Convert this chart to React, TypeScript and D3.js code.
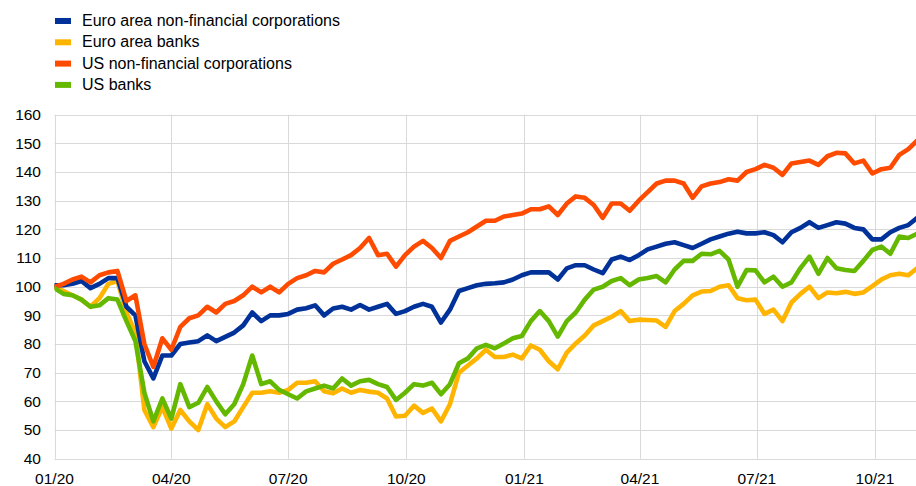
import React from 'react'
import * as d3 from 'd3'

// weekly observations, index 0 = 1 Jan 2020
const START = new Date(2020, 0, 1)
const END = new Date(2021, 10, 2)

const seriesNames = [
  'Euro area non-financial corporations',
  'Euro area banks',
  'US non-financial corporations',
  'US banks',
]
const seriesColors = ['#003299', '#ffb400', '#ff4b00', '#65b800']

const euroNfc = [
  100.5, 100.5, 101, 102, 99.5, 101, 103, 103, 93, 90,
  74, 68, 76, 76, 80, 80.5, 81, 83, 81, 82.5,
  84, 86.5, 91, 88, 90, 90, 90.5, 92, 92.5, 93.5,
  90, 92.4, 93, 92, 93.6, 92, 93, 94, 90.5, 91.5,
  93, 94, 93, 87.5, 92, 98.5, 99.5, 100.5, 101, 101.2,
  101.5, 102.5, 104, 105, 105, 105, 102.5, 106.4, 107.5, 107.5,
  106, 104.7, 109.5, 110.5, 109.3, 111, 113, 114, 115, 115.5,
  114.5, 113.5, 115, 116.5, 117.5, 118.5, 119.2, 118.6, 118.6, 119,
  118, 115.5, 119, 120.5, 122.5, 120.5, 121.5, 122.5, 122, 120.5,
  120, 116.5, 116.5, 119, 120.5, 121.5, 124,
]

const euroBanks = [
  100, 98.5, 97, 95.5, 93, 96, 101, 102, 91, 84,
  57, 51, 58, 50.5, 57, 53, 50, 59, 54, 51,
  53, 58, 63, 63, 63.5, 63, 64, 66.5, 66.5, 67,
  63.5, 62.8, 64.5, 63, 64, 63.4, 63, 61, 54.7, 55,
  58.5, 56, 57.5, 53, 59, 70, 72.5, 75, 78, 75.5,
  75.5, 76.3, 75, 79.5, 78, 74, 71.2, 77, 80.2, 83,
  86.5, 88, 89.5, 91.5, 88, 88.5, 88.4, 88.2, 86, 91.5,
  94, 97, 98.3, 98.5, 100, 100.5, 96, 95.3, 95.5, 90.5,
  92, 88, 94.5, 97.5, 100, 96, 98, 97.7, 98.2, 97.5,
  98, 100.2, 102.5, 104, 104.5, 104, 106.5,
]

const usNfc = [
  100, 101, 102.5, 103.5, 101.5, 104, 105, 105.5, 95, 97,
  80, 72, 82, 78, 86, 89, 90, 93, 91, 94,
  95, 97, 100, 98, 100, 98, 101, 103, 104, 105.5,
  105, 108, 109.5, 111, 113.5, 117, 111, 111.5, 107, 111,
  114, 116, 113.5, 110, 116, 117.5, 119, 121, 123, 123,
  124.5, 125, 125.5, 127, 127, 128, 125, 129, 131.5, 131,
  128.5, 124, 129, 129, 126.5, 130, 133, 136, 137, 137,
  136, 131, 135, 136, 136.5, 137.5, 137, 140, 141, 142.5,
  141.5, 139, 143, 143.5, 144, 142.5, 145.5, 146.7, 146.5, 143,
  144, 139.5, 141, 141.5, 146, 148, 151,
]

const usBanks = [
  99.5, 97.5, 97, 95.5, 93, 93.5, 96, 95.5, 88, 81,
  63, 53, 61, 54, 66, 58, 59.5, 65, 60, 55.5,
  59, 66, 76, 66, 67, 64, 62.5, 61, 63.5, 64.5,
  65.5, 64.5, 68, 65.5, 67, 67.5, 66, 65, 60.5, 63,
  66, 65.5, 66.5, 62.5, 66, 73.3, 75, 78.5, 79.7, 78.5,
  80.2, 82, 82.8, 88, 91.5, 88, 82.6, 88, 91, 95.5,
  99, 100, 102, 103, 100.5, 102.5, 103, 103.7, 101.5, 106,
  109, 109, 111.5, 111.3, 112.5, 109.5, 100, 105.8, 105.7, 101.5,
  103.5, 100, 101.5, 106.5, 110.5, 104.5, 110, 106.4, 105.8, 105.5,
  109, 112.8, 114, 111.5, 117.5, 117, 118.5,
]

// drawing order: back to front as in the original
const drawOrder = [1, 0, 2, 3]
const seriesValues = [euroNfc, euroBanks, usNfc, usBanks]

const yTicks = [40, 50, 60, 70, 80, 90, 100, 110, 120, 130, 140, 150, 160]

export default function App() {
  const width = 916
  const height = 486
  const margin = { top: 114.7, right: 0, bottom: 27.3, left: 54.5 }

  const x = d3.scaleTime()
    .domain([START, END])
    .range([margin.left, width - margin.right])
  const y = d3.scaleLinear()
    .domain([40, 160])
    .range([height - margin.bottom, margin.top])

  const xTicks = d3.timeMonth.every(3)!.range(START, END)
  const fmt = d3.timeFormat('%m/%y')

  const line = d3.line<number>()
    .x((_, i) => x(d3.timeDay.offset(START, 7 * i)))
    .y((d) => y(d))

  const font = '"Liberation Sans", Arial, sans-serif'
  const snap = (v: number) => Math.round(v) + 0.5

  return (
    <div style={{ position: 'absolute', left: 0, top: 0 }}>
      <svg width={width} height={height} style={{ display: 'block', background: '#fff' }}>
        <defs>
          <clipPath id="plot">
            <rect x={margin.left} y={0} width={width - margin.left} height={height - margin.bottom + 4} />
          </clipPath>
        </defs>

        {/* grid */}
        <g stroke="#d9d9d9" strokeWidth={1}>
          {yTicks.map((t) => (
            <line key={t} x1={margin.left} x2={width} y1={snap(y(t))} y2={snap(y(t))} />
          ))}
          {xTicks.map((t) => (
            <line key={+t} x1={snap(x(t))} x2={snap(x(t))} y1={margin.top} y2={height - margin.bottom} />
          ))}
        </g>

        {/* y labels */}
        <g fontFamily={font} fontSize={15.5} fill="#000" textAnchor="end">
          {yTicks.map((t) => (
            <text key={t} x={41} y={y(t)} dy="0.35em">{t}</text>
          ))}
        </g>

        {/* x labels */}
        <g fontFamily={font} fontSize={15.5} fill="#000" textAnchor="middle">
          {xTicks.map((t) => (
            <text key={+t} x={x(t)} y={483.5}>{fmt(t)}</text>
          ))}
        </g>

        {/* lines */}
        <g clipPath="url(#plot)" fill="none" strokeWidth={4.6} strokeLinejoin="round" strokeLinecap="round">
          {drawOrder.map((k) => (
            <path key={k} d={line(seriesValues[k]) || ''} stroke={seriesColors[k]} />
          ))}
        </g>

        {/* legend */}
        <g fontFamily={font} fontSize={16} fill="#000">
          {seriesNames.map((name, i) => (
            <g key={name} transform={`translate(0,${i * 21.3})`}>
              <rect x={55} y={18} width={16} height={6} fill={seriesColors[i]} />
              <text x={82} y={26}>{name}</text>
            </g>
          ))}
        </g>
      </svg>
    </div>
  )
}
